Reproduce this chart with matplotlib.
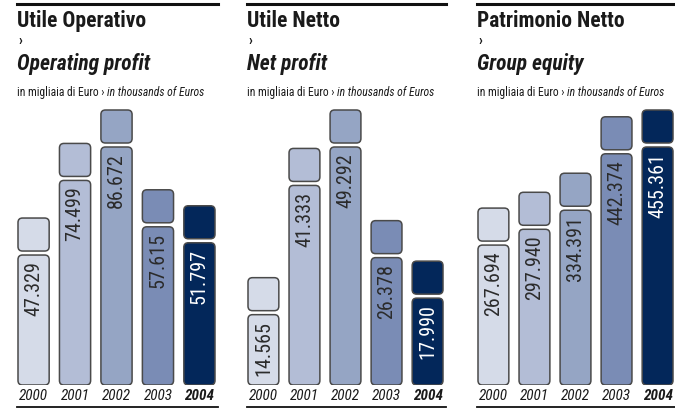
import matplotlib
matplotlib.use("Agg")
import matplotlib.pyplot as plt
from matplotlib.patches import FancyBboxPatch
from matplotlib.lines import Line2D

years = ["2000", "2001", "2002", "2003", "2004"]
operating_profit = [47.329, 74.499, 86.672, 57.615, 51.797]
net_profit = [14.565, 41.333, 49.292, 26.378, 17.990]
group_equity = [267.694, 297.940, 334.391, 442.374, 455.361]

titles_it = ["Utile Operativo", "Utile Netto", "Patrimonio Netto"]
titles_en = ["Operating profit", "Net profit", "Group equity"]
subtitle_it = "in migliaia di Euro \u203a "
subtitle_en = "in thousands of Euros"

bar_colors = ["#d5dbe8", "#b3bdd6", "#95a5c4", "#7a8cb5", "#03275a"]
text_colors = ["#2b2b2b", "#2b2b2b", "#2b2b2b", "#2b2b2b", "#ffffff"]
edge = "#4a4a4a"
NARROW = ["Roboto Condensed", "Archivo Narrow", "Barlow Condensed", "DejaVu Sans"]

W, H = 675, 410
fig = plt.figure(figsize=(W / 100, H / 100), dpi=100)

# panel extents in pixels (left, right)
panels = [(17, 216), (247, 444), (477, 674)]
base_px, top_px, max_px = 386, 100, 238


def fx(px):
    return px / W


def fy(py):
    return 1 - py / H


def fmt(v):
    return f"{v:.3f}"


for k, (vals, (x0, x1)) in enumerate(zip([operating_profit, net_profit, group_equity], panels)):
    # headers
    fig.add_artist(Line2D([fx(x0), fx(x1 + 2)], [fy(5), fy(5)], color="#111111", lw=2.2))
    fig.text(fx(x0), fy(27), titles_it[k], family=NARROW, fontweight="bold", fontsize=15.5, color="#1a1a1a")
    fig.text(fx(x0 + 1), fy(45), "\u203a", family=NARROW, fontweight="bold", fontsize=10, color="#1a1a1a")
    fig.text(fx(x0), fy(70), titles_en[k], family=NARROW, fontweight="bold", style="italic",
             fontsize=15.5, color="#1a1a1a")
    t = fig.text(fx(x0), fy(96), subtitle_it, family=NARROW, fontsize=8.4, color="#1a1a1a")
    fig.canvas.draw()
    bb = t.get_window_extent()
    fig.text(bb.x1 / W, fy(96), subtitle_en, family=NARROW, style="italic", fontsize=8.4, color="#1a1a1a")
    fig.add_artist(Line2D([fx(x0), fx(x1 + 2)], [fy(408), fy(408)], color="#111111", lw=1.3))

    ax = fig.add_axes([fx(x0), fy(base_px), fx(x1 - x0), (base_px - top_px) / H])
    vmax = max(vals)
    ytop = vmax * (base_px - top_px) / max_px
    ax.set_xlim(-0.4, 4.4)
    ax.set_ylim(0, ytop)
    ypp = ytop / (base_px - top_px)
    xpp = 4.8 / (x1 - x0)
    aspect = ypp / xpp
    bw = 0.8 - 2 * xpp
    r = 4.5 * xpp
    for i, v in enumerate(vals):
        body = FancyBboxPatch((i - bw / 2, 0), bw, v,
                              boxstyle=f"round,pad=0,rounding_size={r}",
                              mutation_aspect=aspect, fc=bar_colors[i], ec=edge, lw=1.1)
        ax.add_patch(body)
        cap = FancyBboxPatch((i - bw / 2, v + 4 * ypp), bw, 33 * ypp,
                             boxstyle=f"round,pad=0,rounding_size={r}",
                             mutation_aspect=aspect, fc=bar_colors[i], ec=edge, lw=1.1)
        ax.add_patch(cap)
        ax.text(i, v - 5 * ypp, fmt(v), rotation=90, ha="center", va="top",
                family=NARROW, fontsize=14.5, color=text_colors[i])
    ax.set_xticks(range(len(years)))
    ax.set_xticklabels(years, family=NARROW, style="italic", fontsize=11, color="#1a1a1a")
    ax.get_xticklabels()[-1].set_fontweight("bold")
    ax.tick_params(axis="x", length=0, pad=2.5)
    ax.set_yticks([])
    for s in ax.spines.values():
        s.set_visible(False)
    ax.patch.set_alpha(0)

fig.savefig("out.png", dpi=100)
